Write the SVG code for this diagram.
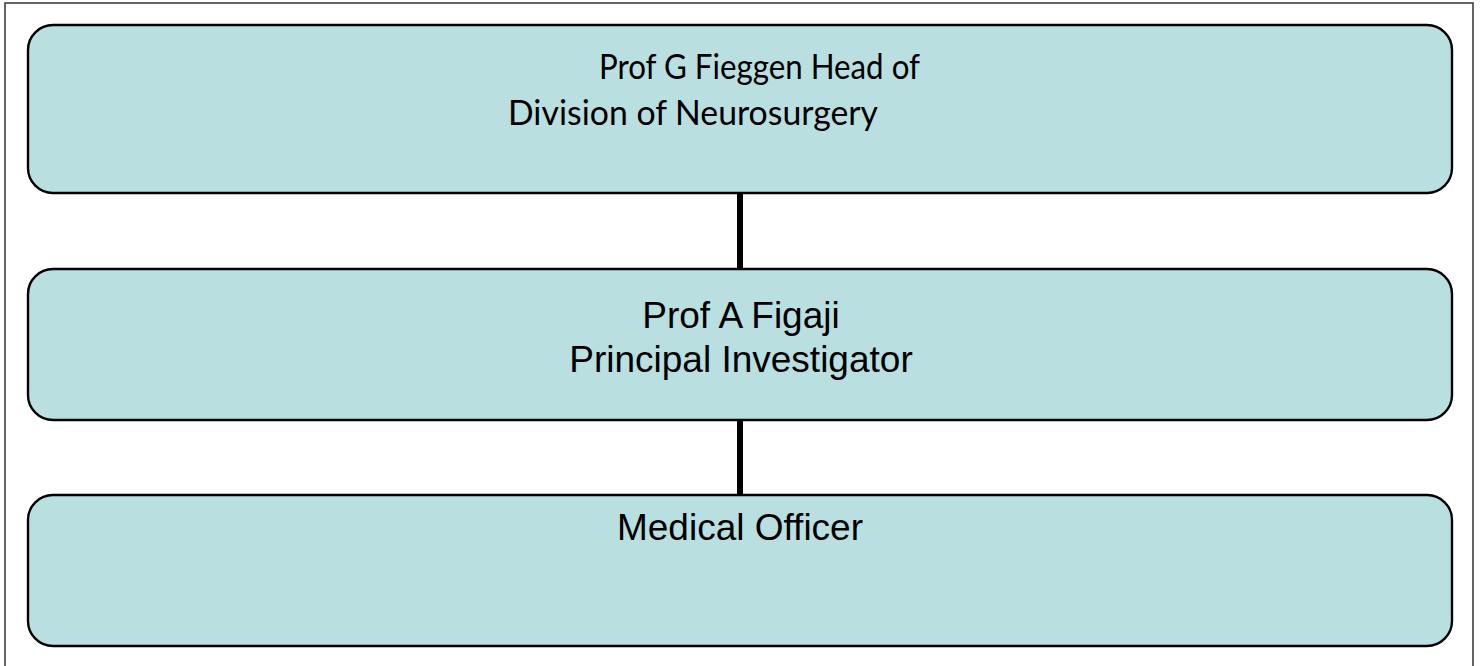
<svg xmlns="http://www.w3.org/2000/svg" width="1480" height="666" viewBox="0 0 1480 666">
<style>
.box{fill:#b9dfe0;stroke:#000;stroke-width:2.4}
.frame{fill:#fff;stroke:#333;stroke-width:1.5}
.conn{stroke:#000;stroke-width:6;fill:none}
.cal{font-family:Lato,"Open Sans",sans-serif;font-size:35px;fill:#000}
.ari{font-family:"Liberation Sans",Arial,sans-serif;font-size:37px;fill:#000;text-anchor:middle}
</style>
<rect width="1480" height="666" fill="#fff"/>
<rect class="frame" x="5" y="3" width="1468" height="700"/>
<g id="connectors">
<line class="conn" x1="740" y1="193" x2="740" y2="269"/>
<line class="conn" x1="740" y1="420" x2="740" y2="495"/>
</g>
<g id="node-head">
<rect class="box" x="28" y="25" width="1424" height="168" rx="25" ry="25"/>
<text class="cal" x="599" y="79" textLength="321" lengthAdjust="spacingAndGlyphs">Prof G Fieggen Head of</text>
<text class="cal" x="508" y="125" textLength="370" lengthAdjust="spacingAndGlyphs">Division of Neurosurgery</text>
</g>
<g id="node-pi">
<rect class="box" x="28" y="269" width="1424" height="151" rx="25" ry="25"/>
<text class="ari" x="741" y="328">Prof A Figaji</text>
<text class="ari" x="741" y="372">Principal Investigator</text>
</g>
<g id="node-mo">
<rect class="box" x="28" y="495" width="1424" height="151" rx="25" ry="25"/>
<text class="ari" x="740" y="540">Medical Officer</text>
</g>
</svg>
